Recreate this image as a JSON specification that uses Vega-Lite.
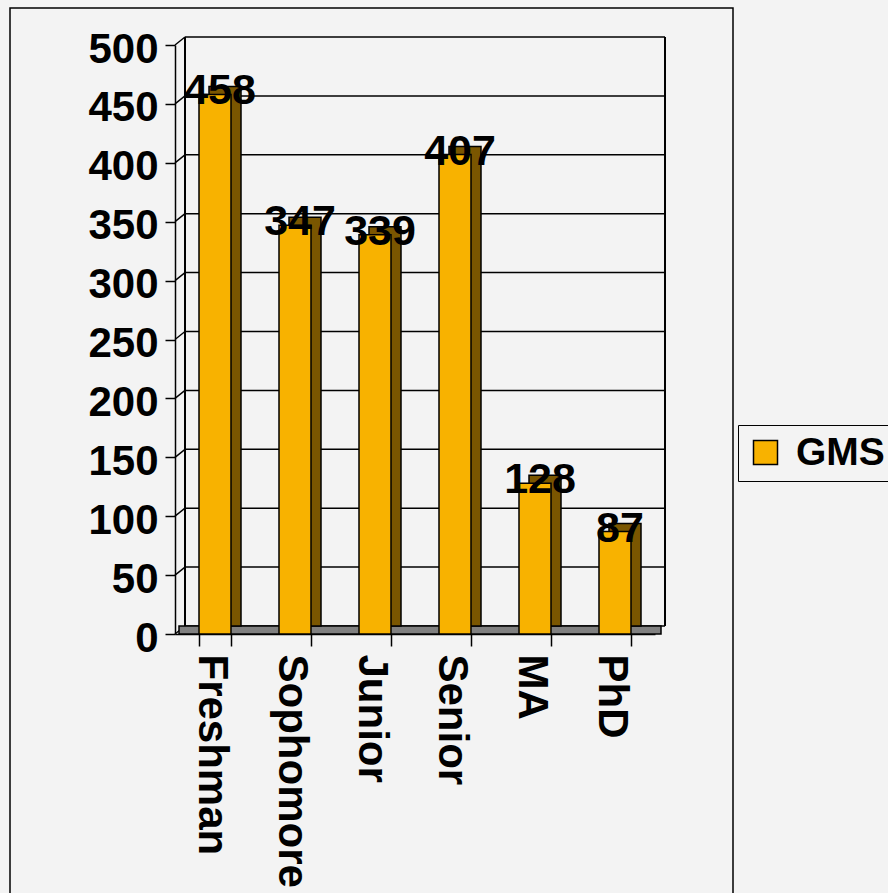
{
  "$schema": "https://vega.github.io/schema/vega-lite/v6.json",
  "width": 723,
  "height": 900,
  "autosize": {"type": "none"},
  "padding": {"left": 10, "top": 8, "right": 155, "bottom": 0},
  "background": "#f3f3f3",
  "config": {
    "font": "Liberation Sans",
    "view": {"stroke": "#000000", "strokeWidth": 1.5, "fill": "#f3f3f3"}
  },
  "datasets": {
    "bars": [
      {"level": "Freshman", "count": 458, "series": "GMS"},
      {"level": "Sophomore", "count": 347, "series": "GMS"},
      {"level": "Junior", "count": 339, "series": "GMS"},
      {"level": "Senior", "count": 407, "series": "GMS"},
      {"level": "MA", "count": 128, "series": "GMS"},
      {"level": "PhD", "count": 87, "series": "GMS"}
    ],
    "grid": [
      {"v": 0}, {"v": 50}, {"v": 100}, {"v": 150}, {"v": 200}, {"v": 250},
      {"v": 300}, {"v": 350}, {"v": 400}, {"v": 450}, {"v": 500}
    ]
  },
  "resolve": {"scale": {"x": "shared", "y": "shared"}},
  "layer": [
    {
      "data": {"name": "grid"},
      "mark": {"type": "rule", "color": "#000000", "strokeWidth": 1.5, "xOffset": 10, "x2Offset": 10, "yOffset": -8},
      "encoding": {
        "y": {"field": "v", "type": "quantitative",
              "scale": {"domain": [0, 500], "range": [626, 37], "nice": false, "zero": true},
              "axis": {"values": [0, 50, 100, 150, 200, 250, 300, 350, 400, 450, 500],
                       "offset": -165, "title": null, "grid": false,
                       "domainColor": "#000000", "domainWidth": 1.5,
                       "tickColor": "#000000", "tickWidth": 1.5, "tickSize": 10,
                       "labelFont": "Liberation Sans", "labelFontWeight": "bold",
                       "labelFontSize": 42, "labelColor": "#000000", "labelPadding": 7,
                       "labelOffset": 4}},
        "x": {"datum": "Freshman", "type": "nominal", "bandPosition": -0.75,
              "scale": {"domain": ["Freshman", "Sophomore", "Junior", "Senior", "MA", "PhD"],
                        "range": [165, 645], "paddingInner": 0.6, "paddingOuter": 0.3},
              "axis": {"offset": -274, "title": null, "grid": false, "tickBand": "extent",
                       "domainColor": "#000000", "domainWidth": 1.5,
                       "tickColor": "#000000", "tickWidth": 1.5, "tickSize": 12,
                       "labelAngle": 90, "labelAlign": "left", "labelBaseline": "middle",
                       "labelFont": "Liberation Sans", "labelFontWeight": "bold",
                       "labelFontSize": 42, "labelColor": "#000000", "labelPadding": 8,
                       "labelOffset": -4, "labelLimit": 0}},
        "x2": {"datum": "PhD", "bandPosition": 1.75}
      }
    },
    {
      "data": {"name": "grid"},
      "mark": {"type": "rule", "color": "#000000", "strokeWidth": 1.5, "x2Offset": 10, "y2Offset": -8},
      "encoding": {
        "y": {"field": "v", "type": "quantitative"},
        "y2": {"field": "v"},
        "x": {"datum": "Freshman", "type": "nominal", "bandPosition": -0.75},
        "x2": {"datum": "Freshman", "bandPosition": -0.75}
      }
    },
    {
      "data": {"name": "grid"},
      "mark": {"type": "rule", "color": "#000000", "strokeWidth": 1.5, "xOffset": 10, "yOffset": -8, "y2Offset": -8},
      "encoding": {
        "x": {"datum": "Freshman", "type": "nominal", "bandPosition": -0.75},
        "y": {"datum": 0, "type": "quantitative"},
        "y2": {"datum": 500}
      }
    },
    {
      "data": {"name": "grid"},
      "mark": {"type": "rule", "color": "#000000", "strokeWidth": 1.5, "xOffset": 10, "yOffset": -8, "y2Offset": -8},
      "encoding": {
        "x": {"datum": "PhD", "type": "nominal", "bandPosition": 1.75},
        "y": {"datum": 0, "type": "quantitative"},
        "y2": {"datum": 500}
      }
    },
    {
      "data": {"values": [{"floor": 1}]},
      "mark": {"type": "rect", "color": "#808080", "stroke": "#000000", "strokeWidth": 1.5, "xOffset": 4, "x2Offset": 6, "y2Offset": -8},
      "encoding": {
        "x": {"datum": "Freshman", "type": "nominal", "bandPosition": -0.75},
        "x2": {"datum": "PhD", "bandPosition": 1.75},
        "y": {"datum": 0, "type": "quantitative"},
        "y2": {"datum": 0}
      }
    },
    {
      "data": {"name": "bars"},
      "mark": {"type": "bar", "color": "#7a5600", "stroke": "#000000", "strokeWidth": 1.5, "xOffset": 10, "yOffset": -8, "y2Offset": -8},
      "encoding": {
        "x": {"field": "level", "type": "nominal", "sort": null},
        "y": {"field": "count", "type": "quantitative"},
        "y2": {"datum": 0}
      }
    },
    {
      "data": {"name": "bars"},
      "mark": {"type": "bar", "stroke": "#000000", "strokeWidth": 1.5},
      "encoding": {
        "x": {"field": "level", "type": "nominal", "sort": null},
        "y": {"field": "count", "type": "quantitative"},
        "y2": {"datum": 0},
        "color": {"field": "series", "type": "nominal",
                  "scale": {"domain": ["GMS"], "range": ["#f8b200"]},
                  "legend": {"title": null, "orient": "none", "legendX": 728, "legendY": 417,
                             "symbolType": "square", "symbolSize": 576,
                             "symbolStrokeColor": "#000000", "symbolStrokeWidth": 1.5,
                             "symbolFillColor": "#f8b200",
                             "labelFont": "Liberation Sans", "labelFontWeight": "bold",
                             "labelFontSize": 39, "labelColor": "#000000",
                             "padding": 8, "strokeColor": "#000000", "fillColor": "#f3f3f3",
                             "labelOffset": 11}}
      }
    },
    {
      "data": {"name": "bars"},
      "mark": {"type": "text", "font": "Liberation Sans", "fontWeight": "bold", "fontSize": 43,
               "color": "#000000", "baseline": "middle", "align": "center", "xOffset": 5, "dy": -3},
      "encoding": {
        "x": {"field": "level", "type": "nominal", "sort": null},
        "y": {"field": "count", "type": "quantitative"},
        "text": {"field": "count", "type": "quantitative"}
      }
    }
  ]
}
